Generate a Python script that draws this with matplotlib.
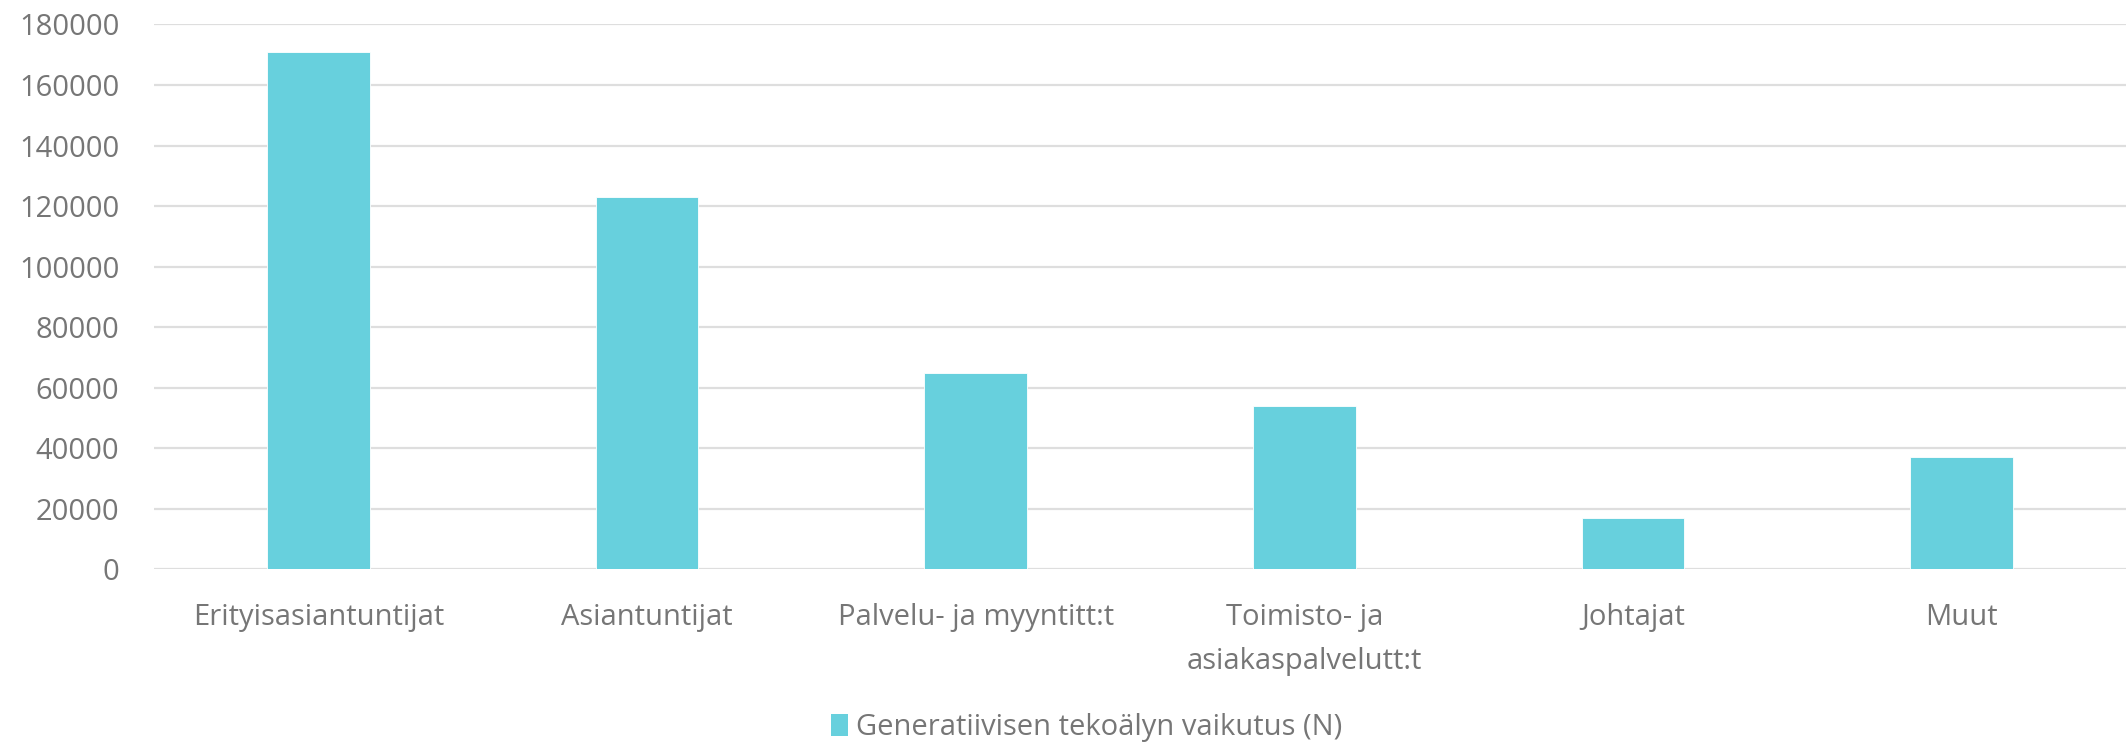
#!/usr/bin/env python3
# -*- coding: utf-8 -*-
import matplotlib
matplotlib.use('Agg')
import matplotlib.pyplot as plt
from matplotlib.patches import Patch

# data
categories = ['Erityisasiantuntijat', 'Asiantuntijat', 'Palvelu- ja myyntitt:t',
              'Toimisto- ja\nasiakaspalvelutt:t', 'Johtajat', 'Muut']
values = [171000, 123000, 65000, 54000, 17000, 37000]
series_name = 'Generatiivisen tekoälyn vaikutus (N)'
yticks = list(range(0, 180001, 20000))

bar_color = '#67D0DD'
text_color = '#767676'
grid_color = '#DEDEDE'

plt.rcParams['font.family'] = ['Open Sans', 'DejaVu Sans']

fig = plt.figure(figsize=(21.26, 7.42), dpi=100)
ax = fig.add_axes([0.0724, 0.2325, 0.9276, 0.7345])

x = list(range(len(categories)))
ax.bar(x, values, width=0.313, color=bar_color, edgecolor='white', linewidth=0.6, zorder=3)

ax.set_xlim(-0.5, len(categories) - 0.5)
ax.set_ylim(0, 180000)
ax.set_yticks(yticks)
ax.set_yticklabels([str(v) for v in yticks])
ax.set_xticks(x)
ax.set_xticklabels(categories, linespacing=1.7, va='top')

ax.grid(axis='y', color=grid_color, linewidth=1.6, zorder=0)
ax.set_axisbelow(True)
for s in ax.spines.values():
    s.set_visible(False)
ax.tick_params(axis='both', length=0, labelsize=21, colors=text_color)
ax.tick_params(axis='y', pad=25)
ax.tick_params(axis='x', pad=24)

handle = Patch(facecolor=bar_color, edgecolor='none')
fig.legend([handle], [series_name], loc='center', bbox_to_anchor=(0.511, 0.019),
           frameon=False, fontsize=21, labelcolor=text_color,
           handlelength=0.6, handleheight=0.8, handletextpad=0.25)

fig.savefig('out.png', dpi=100)
